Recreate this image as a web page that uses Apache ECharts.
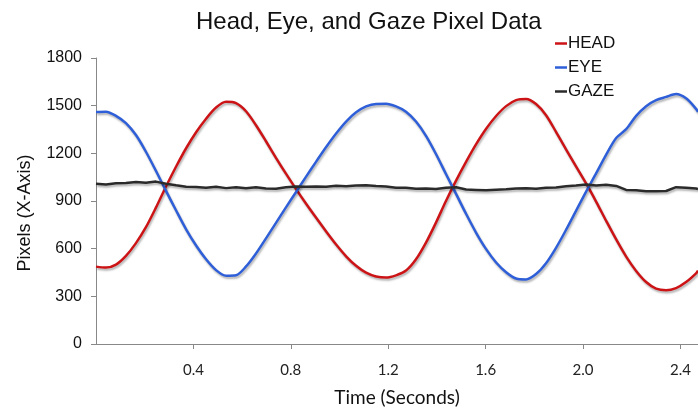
<!DOCTYPE html>
<html>
<head>
<meta charset="utf-8">
<script src="https://cdn.jsdelivr.net/npm/echarts@6/dist/echarts.min.js"></script>
<style>
  html, body { margin: 0; padding: 0; background: #fff; }
  #main1 { width: 698px; height: 412px; }
</style>
</head>
<body>
<div id="main1"></div>
<script>
var dom1 = document.getElementById("main1");
var myChart1 = echarts.init(dom1);

// time (s), sampled every ~10 px of the original picture
var time = [
    0, 0.041, 0.082, 0.123, 0.164, 0.205, 0.246, 0.287, 0.329, 0.370,
    0.411, 0.452, 0.493, 0.534, 0.575, 0.616, 0.657, 0.698, 0.739, 0.780,
    0.821, 0.862, 0.904, 0.945, 0.986, 1.027, 1.068, 1.109, 1.150, 1.191,
    1.232, 1.273, 1.314, 1.355, 1.396, 1.437, 1.479, 1.520, 1.561, 1.602,
    1.643, 1.684, 1.725, 1.766, 1.807, 1.848, 1.889, 1.930, 1.971, 2.012,
    2.054, 2.095, 2.136, 2.177, 2.218, 2.259, 2.300, 2.341, 2.382, 2.423,
    2.464, 2.472
];
var head = [
    487, 481, 500, 555, 635, 735, 858, 990, 1117, 1232,
    1333, 1418, 1488, 1524, 1516, 1465, 1377, 1276, 1172, 1072,
    976, 884, 794, 708, 626, 552, 492, 449, 425, 418,
    432, 462, 533, 638, 764, 900, 1030, 1148, 1258, 1355,
    1435, 1497, 1535, 1542, 1510, 1440, 1335, 1225, 1118, 1012,
    895, 775, 658, 550, 460, 390, 348, 338, 352, 390,
    445, 462
];
var eye = [
    1460, 1462, 1436, 1390, 1315, 1210, 1090, 965, 840, 722,
    620, 533, 465, 430, 433, 488, 570, 665, 762, 860,
    955, 1052, 1148, 1240, 1325, 1400, 1458, 1495, 1511, 1512,
    1495, 1462, 1400, 1310, 1196, 1070, 943, 818, 700, 597,
    513, 452, 412, 406, 440, 508, 605, 718, 838, 958,
    1075, 1192, 1296, 1352, 1436, 1497, 1535, 1555, 1573, 1546,
    1480, 1460
];
var gaze = [
    1008, 1004, 1011, 1013, 1020, 1015, 1022, 1009, 999, 990,
    988, 983, 990, 981, 987, 980, 986, 979, 977, 987,
    991, 989, 992, 990, 996, 993, 997, 999, 994, 991,
    984, 983, 977, 979, 976, 984, 986, 972, 970, 968,
    971, 974, 978, 980, 977, 984, 985, 993, 997, 1004,
    998, 1002, 995, 970, 967, 961, 961, 963, 987, 984,
    979, 976
];
var yTicks = [0, 300, 600, 900, 1200, 1500, 1800];
var names = ['HEAD', 'EYE', 'GAZE'];
var colors = ['#cc1417', '#2e5fd8', '#2b2b2b'];

function pairs(vals) {
    return time.map(function (t, i) { return [t, vals[i]]; });
}

function lineSeries(name, vals, color, smooth) {
    return {
        type: 'line',
        name: name,
        data: pairs(vals),
        showSymbol: false,
        smooth: smooth,
        color: color,
        lineStyle: {
            width: 2.5,
            color: color,
            shadowColor: 'rgba(0,0,0,0.3)',
            shadowBlur: 2,
            shadowOffsetX: 1,
            shadowOffsetY: 2
        }
    };
}

var option = {
    animation: false,
    backgroundColor: '#fff',
    title: {
        text: 'Head, Eye, and Gaze Pixel Data',
        left: 191,
        top: 5,
        textStyle: {
            fontFamily: 'Liberation Sans',
            fontSize: 24,
            fontWeight: 'normal',
            color: '#111'
        }
    },
    legend: {
        data: names,
        orient: 'vertical',
        left: 555,
        top: 35,
        padding: 0,
        itemGap: 7,
        icon: 'rect',
        itemWidth: 12,
        itemHeight: 2.5,
        textStyle: {
            fontFamily: 'Liberation Sans',
            fontSize: 17,
            color: '#111',
            padding: [0, 0, 0, -4]
        }
    },
    grid: {
        left: 96,
        right: 0,
        top: 58,
        bottom: 67
    },
    xAxis: {
        type: 'value',
        min: 0,
        max: 2.472,
        interval: 0.4,
        name: 'Time (Seconds)',
        nameLocation: 'middle',
        nameGap: 44,
        nameTextStyle: {
            fontFamily: 'Lato',
            fontSize: 19,
            color: '#111'
        },
        axisLine: { show: true, lineStyle: { color: '#888', width: 1 } },
        axisTick: { show: true, length: 5, lineStyle: { color: '#888' } },
        splitLine: { show: false },
        axisLabel: {
            margin: 19,
            showMinLabel: false,
            showMaxLabel: false,
            fontFamily: 'Lato',
            fontSize: 15,
            color: '#222',
            formatter: function (v) { return v.toFixed(1); }
        }
    },
    yAxis: {
        type: 'value',
        min: yTicks[0],
        max: yTicks[yTicks.length - 1],
        interval: yTicks[1] - yTicks[0],
        name: 'Pixels (X-Axis)',
        nameLocation: 'middle',
        nameRotate: 90,
        nameGap: 62,
        nameTextStyle: {
            fontFamily: 'Liberation Sans',
            fontSize: 18,
            color: '#111',
            padding: [0, 24, 0, 0]
        },
        axisLine: { show: true, lineStyle: { color: '#888', width: 1 } },
        axisTick: { show: true, length: 5, lineStyle: { color: '#888' } },
        splitLine: { show: false },
        axisLabel: {
            margin: 14,
            fontFamily: 'Liberation Sans',
            fontSize: 16,
            color: '#111',
            formatter: function (v) { return String(v); }
        }
    },
    series: [
        lineSeries(names[0], head, colors[0], 0.3),
        lineSeries(names[1], eye, colors[1], 0.3),
        lineSeries(names[2], gaze, colors[2], false)
    ]
};

if (option && typeof option === "object") {
    myChart1.setOption(option, true);
}
</script>
</body>
</html>
